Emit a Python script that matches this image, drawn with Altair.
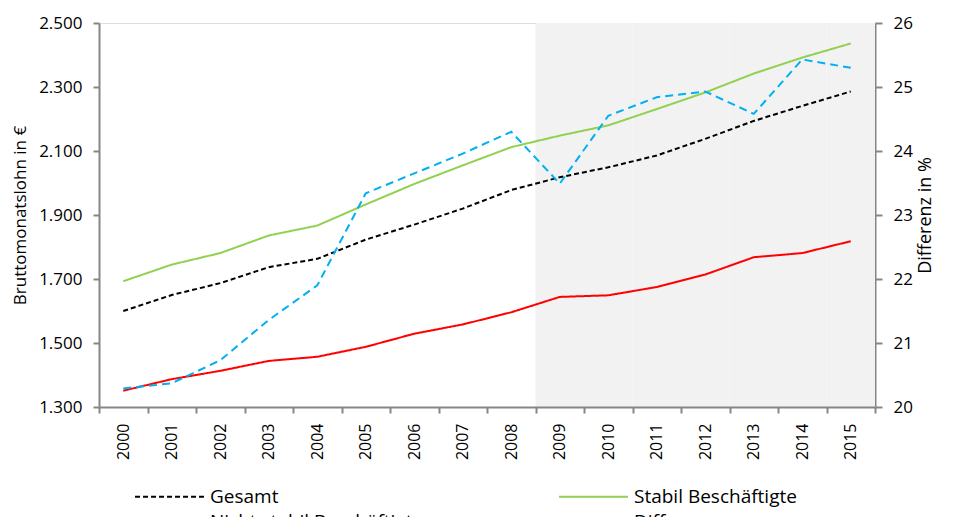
import altair as alt
import pandas as pd

years = [str(y) for y in range(2000, 2016)]
series_names = ["Gesamt", "Nicht stabil Beschäftigte", "Stabil Beschäftigte", "Differenz"]
gesamt = [1600, 1650, 1687, 1737, 1763, 1823, 1870, 1920, 1978, 2018, 2049, 2086, 2138, 2194, 2241, 2286]
stabil = [1693, 1745, 1781, 1836, 1867, 1933, 1997, 2055, 2112, 2148, 2180, 2231, 2283, 2342, 2392, 2436]
nicht_stabil = [1351, 1387, 1413, 1444, 1457, 1488, 1529, 1558, 1596, 1644, 1649, 1675, 1714, 1768, 1781, 1818]
differenz = [20.29, 20.37, 20.73, 21.36, 21.90, 23.34, 23.65, 23.96, 24.30, 23.49, 24.55, 24.84, 24.93, 24.58, 25.43, 25.30]
shaded_years = ["2009", "2010", "2011", "2012", "2013", "2014", "2015"]
left_ticks = [1300, 1500, 1700, 1900, 2100, 2300, 2500]
right_ticks = [20, 21, 22, 23, 24, 25, 26]

colors = ["#000000", "#FF0000", "#92D050", "#00B0F0"]
dashes = [[5, 3], [1, 0], [1, 0], [8, 5]]

FONT = "Open Sans"
AXIS_GREY = "#868686"

df_left = pd.concat([
    pd.DataFrame({"year": years, "series": "Gesamt", "value": gesamt}),
    pd.DataFrame({"year": years, "series": "Stabil Beschäftigte", "value": stabil}),
    pd.DataFrame({"year": years, "series": "Nicht stabil Beschäftigte", "value": nicht_stabil}),
])
df_right = pd.DataFrame({"year": years, "series": "Differenz", "value": differenz})
df_shade = pd.DataFrame({"year": shaded_years})

x_enc = alt.X(
    "year:O",
    title=None,
    scale=alt.Scale(domain=years, paddingInner=0, paddingOuter=0),
    axis=alt.Axis(labelAngle=270, tickBand="extent", labelFontSize=16, labelPadding=10,
                  tickSize=6, domainColor=AXIS_GREY, tickColor=AXIS_GREY,
                  domainWidth=2, tickWidth=2, labelColor="#000", labelBaseline="middle",
                  labelAlign="right", labelFont=FONT),
)

legend = alt.Legend(
    title=None, orient="none", legendX=61, legendY=464, columns=2,
    symbolType="M-6,0H6", symbolSize=132, symbolStrokeWidth=2,
    labelFontSize=19, labelOffset=31, labelLimit=400, rowPadding=5, columnPadding=131,
    labelColor="#000", labelFont=FONT,
)

color_enc = alt.Color("series:N", scale=alt.Scale(domain=series_names, range=colors), legend=legend)
dash_enc = alt.StrokeDash("series:N", scale=alt.Scale(domain=series_names, range=dashes), legend=legend)

left_scale = alt.Scale(domain=[1300, 2500], nice=False, zero=False)
left_axis = alt.Axis(orient="left", values=left_ticks, title="Bruttomonatslohn in €",
                     labelExpr="replace(format(datum.value, ','), ',', '.')",
                     labelFontSize=17, titleFontSize=17, titleFontWeight="normal",
                     titlePadding=9, tickSize=6, labelPadding=11,
                     domainColor=AXIS_GREY, tickColor=AXIS_GREY, domainWidth=2, tickWidth=2,
                     grid=False, labelColor="#000", titleColor="#000",
                     labelFont=FONT, titleFont=FONT)

shade = alt.Chart(df_shade).mark_rect(color="#F2F2F2").encode(
    x=x_enc,
    y=alt.Y(datum=1300, type="quantitative", scale=left_scale, axis=left_axis),
    y2=alt.datum(2500),
)

lines_left = alt.Chart(df_left).mark_line(strokeWidth=2).encode(
    x=x_enc,
    y=alt.Y("value:Q", scale=left_scale, axis=left_axis, title="Bruttomonatslohn in €"),
    color=color_enc,
    strokeDash=dash_enc,
    order=alt.Order("year:O"),
)

lines_right = alt.Chart(df_right).mark_line(strokeWidth=2).encode(
    x=x_enc,
    y=alt.Y(
        "value:Q",
        scale=alt.Scale(domain=[20, 26], nice=False, zero=False),
        axis=alt.Axis(orient="right", values=right_ticks, title="Differenz in %",
                      labelFontSize=17, titleFontSize=18, titleFontWeight="normal",
                      titleAngle=270, titlePadding=22, tickSize=7, labelPadding=11,
                      domainColor=AXIS_GREY, tickColor=AXIS_GREY, domainWidth=2, tickWidth=2,
                      grid=False, labelColor="#000", titleColor="#000",
                      labelFont=FONT, titleFont=FONT),
    ),
    color=color_enc,
    strokeDash=dash_enc,
    order=alt.Order("year:O"),
)

left = alt.layer(shade, lines_left)
chart = alt.layer(left, lines_right).resolve_scale(y="independent").properties(
    width=776,
    height=384,
    autosize=alt.AutoSizeParams(type="none"),
    padding={"left": 91, "top": 15, "right": 79, "bottom": 110},
).configure_view(stroke=None).configure(font=FONT, background="white")

chart.save("out.html", embed_options={"renderer": "svg", "actions": False})
